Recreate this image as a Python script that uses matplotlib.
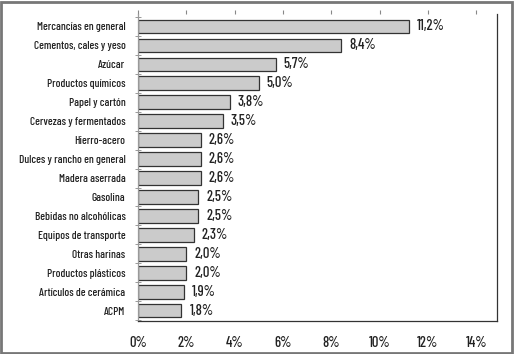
import numpy as np
import matplotlib.pyplot as plt

plt.rcParams['font.family'] = ['Barlow Condensed', 'Asap Condensed', 'Archivo Narrow',
                               'Liberation Sans', 'DejaVu Sans']

categories = ['Mercancías en general', 'Cementos, cales y yeso', 'Azúcar',
              'Productos químicos', 'Papel y cartón', 'Cervezas y fermentados',
              'Hierro-acero', 'Dulces y rancho en general', 'Madera aserrada',
              'Gasolina', 'Bebidas no alcohólicas', 'Equipos de transporte',
              'Otras harinas', 'Productos plásticos', 'Artículos de cerámica', 'ACPM']
values = [11.2, 8.4, 5.7, 5.0, 3.8, 3.5, 2.6, 2.6, 2.6, 2.5, 2.5, 2.3, 2.0, 2.0, 1.9, 1.8]
xticks = [0, 2, 4, 6, 8, 10, 12, 14]

lab_fs, val_fs = 8.2, 10.5

fig = plt.figure(figsize=(5.14, 3.54), dpi=100)
ax = fig.add_axes([0.2685, 0.093, 0.698, 0.867])

y = np.arange(len(categories))
ax.barh(y, values, height=0.72, color='#cbcbcb', edgecolor='#333333', linewidth=0.9)
for yi, v in zip(y, values):
    ax.text(v + 0.33, yi, f'{v:.1f}%'.replace('.', ','), va='center', ha='left',
            fontsize=val_fs, color='#222222', fontweight='medium')

ax.set_xlim(0, 14.85)
ax.set_ylim(len(categories) - 0.45, -0.65)
ax.set_yticks(y)
ax.set_yticklabels(categories, fontsize=lab_fs, color='#222222', fontweight='medium')
ax.set_yticks(np.arange(-0.5, len(categories), 1), minor=True)
ax.tick_params(axis='y', which='major', length=0, pad=9)
ax.tick_params(axis='y', which='minor', length=4, direction='inout', color='#888888')

ax.set_xticks(xticks)
ax.set_xticklabels([f'{t}%' for t in xticks], fontsize=val_fs, color='#222222',
                   fontweight='medium')
ax.tick_params(axis='x', which='major', bottom=False, top=True, labelbottom=True,
               length=3, color='#888888', pad=8, direction='out')

ax.spines['top'].set_visible(False)
for s in ['left', 'right', 'bottom']:
    ax.spines[s].set_color('#333333')
    ax.spines[s].set_linewidth(0.9)
ax.spines['left'].set_color('#999999')

fig.patches.append(plt.Rectangle((0.002, 0.003), 0.994, 0.992, transform=fig.transFigure,
                                 fill=False, edgecolor='#777777', linewidth=2))

fig.savefig('out.png', dpi=100)
